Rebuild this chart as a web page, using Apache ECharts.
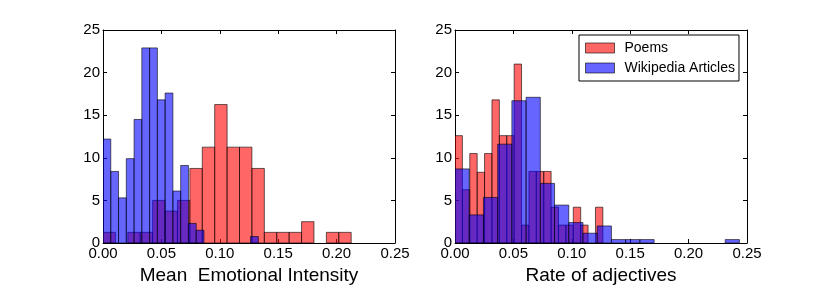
<!DOCTYPE html>
<html>
<head>
<meta charset="utf-8">
<script src="https://cdn.jsdelivr.net/npm/echarts@6/dist/echarts.min.js"></script>
<style>
html,body{margin:0;padding:0;background:#fff;}
#chart{width:830px;height:305px;}
</style>
</head>
<body>
<div id="chart"></div>
<script>
// ---- Data (histogram densities) ----
const seriesNames = ['Poems', 'Wikipedia Articles'];
const xTickValues = [0.00, 0.05, 0.10, 0.15, 0.20, 0.25];
const yTickValues = [0, 5, 10, 15, 20, 25];
const xTitles = ['Mean  Emotional Intensity', 'Rate of adjectives'];

// Panel 1: Mean Emotional Intensity
const emotionPoemsStart = 0;
const emotionPoemsBinWidth = 0.010625;
const emotionPoems = [1.25, 0, 1.25, 1.25, 5.0, 3.75, 5.0, 8.75, 11.25, 16.25,
                      11.25, 11.25, 8.75, 1.25, 1.25, 1.25, 2.5, 0, 1.25, 1.25];
const emotionWikiStart = 0;
const emotionWikiBinWidth = 0.00665;
const emotionWiki = [12.2, 8.4, 5.3, 9.9, 14.5, 22.9, 22.9, 16.8, 17.6, 6.1,
                     9.1, 2.3, 1.5, 0, 0, 0, 0, 0, 0, 0.76];

// Panel 2: Rate of adjectives
const adjPoemsStart = 0;
const adjPoemsBinWidth = 0.00633;
const adjPoems = [12.6, 6.25, 10.5, 8.3, 10.5, 16.8, 12.6, 12.6, 21.0, 2.1,
                  8.4, 8.4, 8.4, 4.2, 2.1, 2.1, 4.2, 2.1, 0, 4.2];
const adjWikiStart = 0;
const adjWikiBinWidth = 0.012175;
const adjWiki = [8.7, 3.3, 5.35, 11.6, 16.7, 17.1, 7.0, 4.45, 2.4, 1.15,
                 2.0, 0.4, 0.4, 0.4, 0, 0, 0, 0, 0, 0.4];

// ---- Build chart ----
function toBins(start, width, values) {
  return values.map((v, i) => [start + i * width, start + (i + 1) * width, v]);
}
const RED = 'rgba(255,0,0,0.6)';
const BLUE = 'rgba(0,0,255,0.6)';
const EDGE = 'rgba(0,0,0,0.6)';

function renderBin(params, api) {
  const y = api.value(2);
  if (!(y > 0)) return null;
  const p0 = api.coord([api.value(0), y]);
  const p1 = api.coord([api.value(1), 0]);
  return {
    type: 'rect',
    shape: { x: p0[0], y: p0[1], width: p1[0] - p0[0], height: p1[1] - p0[1] },
    style: { fill: api.visual('color'), stroke: EDGE, lineWidth: 1 }
  };
}

const FONT = 'Liberation Sans, Arial, Helvetica, sans-serif';
const xMin = xTickValues[0], xMax = xTickValues[xTickValues.length - 1];
const xInt = xTickValues[1] - xTickValues[0];
const yMin = yTickValues[0], yMax = yTickValues[yTickValues.length - 1];
const yInt = yTickValues[1] - yTickValues[0];

const grids = [
  { left: 103, top: 30, width: 292, height: 213 },
  { left: 455, top: 30, width: 292, height: 213 }
];

const xAxes = [], yAxes = [];
grids.forEach((g, gi) => {
  const common = {
    type: 'value', gridIndex: gi, min: xMin, max: xMax, interval: xInt,
    splitLine: { show: false },
    axisLine: { show: true, onZero: false, lineStyle: { color: '#000', width: 1 } },
    axisTick: { show: true, inside: true, length: 4, lineStyle: { color: '#000', width: 1 } }
  };
  xAxes.push(Object.assign({}, common, {
    position: 'bottom',
    axisLabel: { show: true, fontFamily: FONT, fontSize: 15, color: '#000', margin: 3.5,
                 formatter: v => v.toFixed(2) },
    name: xTitles[gi], nameLocation: 'middle', nameGap: 22,
    nameTextStyle: { fontFamily: FONT, fontSize: 19, color: '#000' }
  }));
  xAxes.push(Object.assign({}, common, { position: 'top', axisLabel: { show: false } }));
  const ycommon = {
    type: 'value', gridIndex: gi, min: yMin, max: yMax, interval: yInt,
    splitLine: { show: false },
    axisLine: { show: true, onZero: false, lineStyle: { color: '#000', width: 1 } },
    axisTick: { show: true, inside: true, length: 4, lineStyle: { color: '#000', width: 1 } }
  };
  yAxes.push(Object.assign({}, ycommon, {
    position: 'left',
    axisLabel: { show: true, fontFamily: FONT, fontSize: 15, color: '#000', margin: 3 }
  }));
  yAxes.push(Object.assign({}, ycommon, { position: 'right', axisLabel: { show: false } }));
});

function histSeries(name, color, gi, start, width, values) {
  return {
    type: 'custom', name: name,
    xAxisIndex: gi * 2, yAxisIndex: gi * 2,
    itemStyle: { color: color, borderColor: EDGE, borderWidth: 1 },
    encode: { x: [0, 1], y: 2 },
    clip: true,
    renderItem: renderBin,
    data: toBins(start, width, values)
  };
}

const option = {
  animation: false,
  backgroundColor: '#fff',
  grid: grids,
  xAxis: xAxes,
  yAxis: yAxes,
  legend: {
    data: [
      { name: seriesNames[0], itemStyle: { color: RED, borderColor: EDGE, borderWidth: 1 } },
      { name: seriesNames[1], itemStyle: { color: BLUE, borderColor: EDGE, borderWidth: 1 } }
    ],
    orient: 'vertical',
    left: 579, top: 35,
    padding: [6, 4, 6, 6],
    itemGap: 6,
    itemWidth: 29, itemHeight: 10,
    icon: 'rect',
    borderColor: '#000', borderWidth: 1,
    textStyle: { fontFamily: FONT, fontSize: 14, color: '#000', lineHeight: 14, padding: [0, 0, 0, 5] }
  },
  series: [
    histSeries(seriesNames[0], RED, 0, emotionPoemsStart, emotionPoemsBinWidth, emotionPoems),
    histSeries(seriesNames[1], BLUE, 0, emotionWikiStart, emotionWikiBinWidth, emotionWiki),
    histSeries(seriesNames[0], RED, 1, adjPoemsStart, adjPoemsBinWidth, adjPoems),
    histSeries(seriesNames[1], BLUE, 1, adjWikiStart, adjWikiBinWidth, adjWiki)
  ]
};

const chart = echarts.init(document.getElementById('chart'), null, { renderer: 'canvas' });
chart.setOption(option);
</script>
</body>
</html>
